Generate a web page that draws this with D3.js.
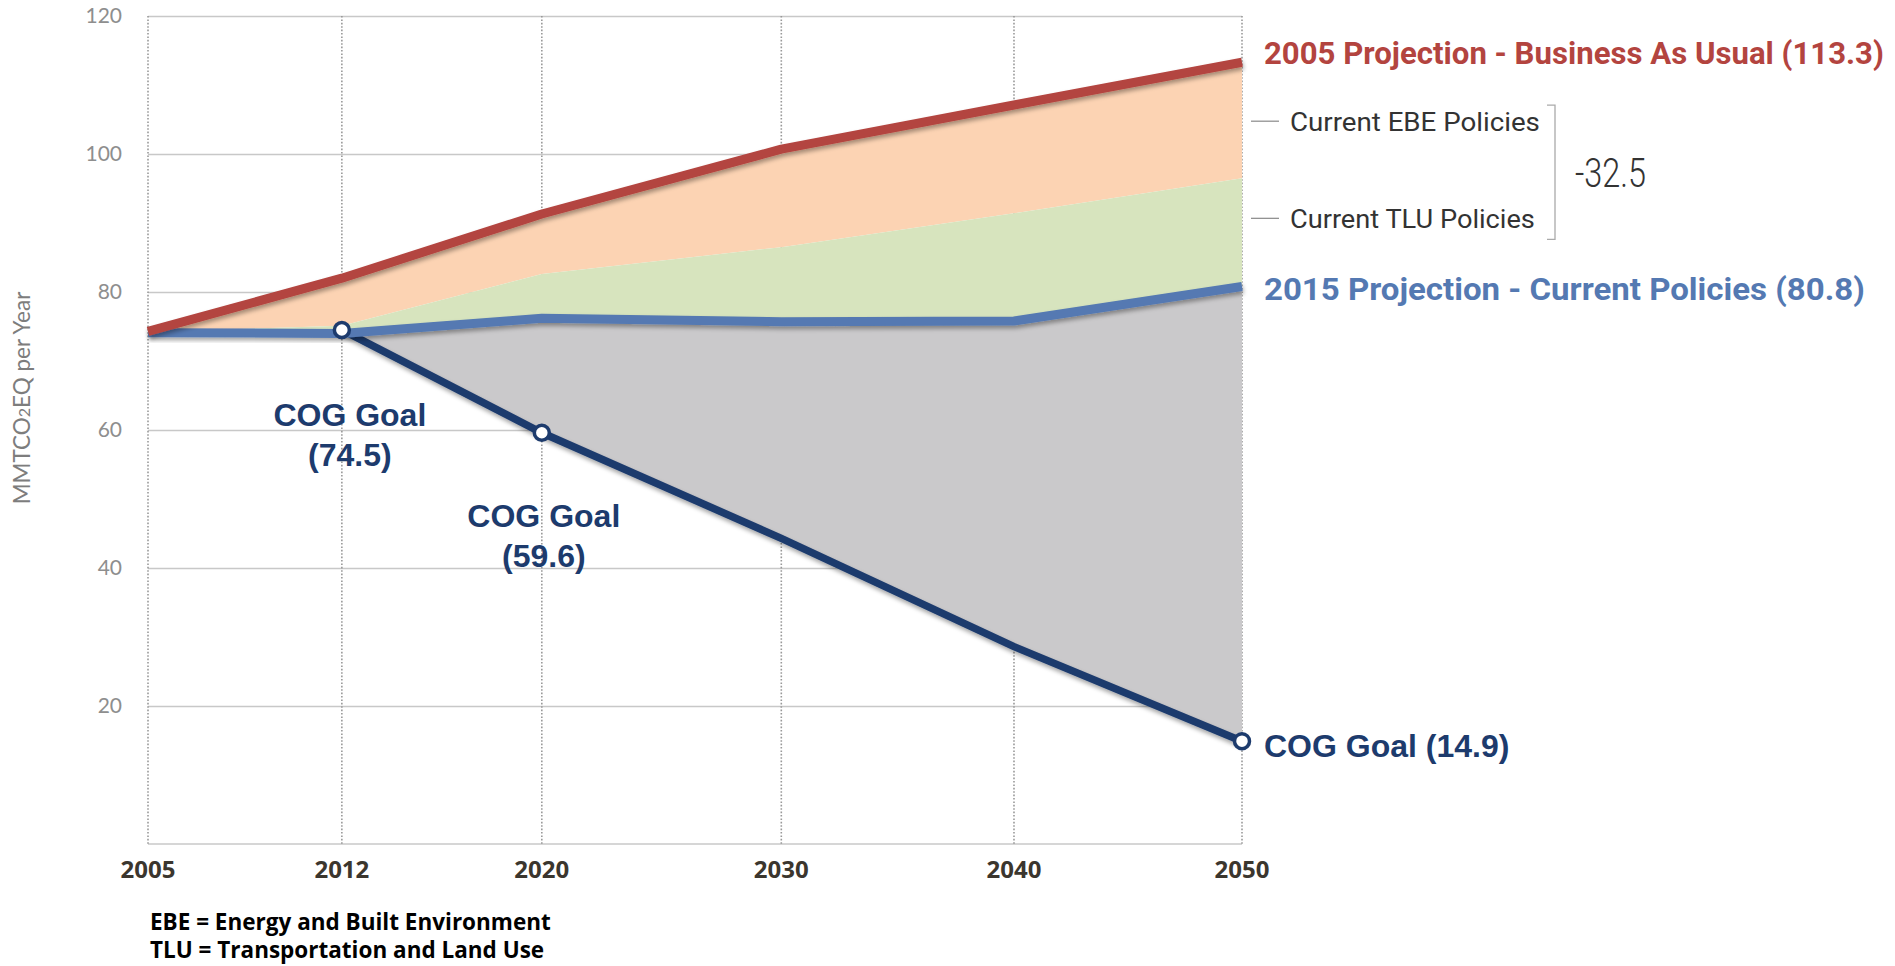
<!DOCTYPE html>
<html>
<head>
<meta charset="utf-8">
<script src="https://cdn.jsdelivr.net/npm/d3@7"></script>
<style>
  body { margin: 0; background: #fff; }
</style>
</head>
<body>
<div id="canvas"></div>
<script>
const years = [2005, 2012, 2020, 2030, 2040, 2050];
const businessAsUsual = [74.3, 82.0, 91.3, 100.7, 107.1, 113.3];
const afterEbePolicies = [74.2, 75.1, 82.6, 86.5, 91.4, 96.5];
const currentPolicies = [74.1, 74.0, 76.2, 75.7, 75.8, 80.8];
const cogGoal = [null, 74.5, 59.6, 44.3, 28.6, 14.9];
const yTicks = [20, 40, 60, 80, 100, 120];

const width = 1895, height = 966;
const margin = { top: 16, left: 148, right: 653, bottom: 122 };
const iwidth = width - margin.left - margin.right;
const iheight = height - margin.top - margin.bottom;

const navy = "#1d3b6d", red = "#b3443f", blue = "#5479b2";

const svg = d3.select("#canvas").append("svg")
    .attr("width", width)
    .attr("height", height);

const defs = svg.append("defs");
defs.append("filter").attr("id", "shadow")
    .attr("x", "-5%").attr("y", "-20%").attr("width", "110%").attr("height", "140%")
  .append("feDropShadow")
    .attr("dx", 1).attr("dy", 3).attr("stdDeviation", 2)
    .attr("flood-color", "#000").attr("flood-opacity", 0.35);

const g = svg.append("g").attr("transform", `translate(${margin.left},${margin.top})`);

// the source axis is slightly compressed toward the later years
const xs = d3.scalePow().exponent(0.93).domain([0, 2050 - 2005]).range([0, iwidth]);
const x = yr => xs(yr - 2005);
const y = d3.scaleLinear().domain([0, 120]).range([iheight, 0]);

const rows = years.map((yr, i) => ({
    year: yr,
    bau: businessAsUsual[i],
    ebe: afterEbePolicies[i],
    cur: currentPolicies[i],
    cog: cogGoal[i]
}));

// horizontal gridlines + y labels
g.append("g")
    .call(d3.axisLeft(y).tickValues(yTicks).tickSize(-iwidth).tickPadding(26))
    .call(a => a.select(".domain").remove())
    .call(a => a.selectAll("line").attr("stroke", "#c8c8c8").attr("stroke-width", 1.5))
    .call(a => a.selectAll("text")
        .attr("fill", "#8e8e8e")
        .style("font", "21px Lato, sans-serif")
        .attr("dy", "0.3em"));

// x axis line
g.append("line")
    .attr("x1", 0).attr("x2", iwidth)
    .attr("y1", y(0)).attr("y2", y(0))
    .attr("stroke", "#c8c8c8").attr("stroke-width", 1.5);

// dotted verticals
g.selectAll(".vgrid").data(years).enter().append("line")
    .attr("class", "vgrid")
    .attr("x1", d => x(d)).attr("x2", d => x(d))
    .attr("y1", y(120)).attr("y2", y(0))
    .attr("stroke", "#999")
    .attr("stroke-width", 1.6)
    .attr("stroke-dasharray", "1.6,1.8");

// x labels
const xl = g.append("g")
    .attr("fill", "#3b362e")
    .attr("text-anchor", "middle")
    .style("font", "bold 24px 'Open Sans', sans-serif");
xl.selectAll("text").data(years).enter().append("text")
    .attr("x", d => x(d))
    .attr("y", iheight + 34)
    .text(d => d);

// stacked bands
const orange = d3.area().x(d => x(d.year)).y0(d => y(d.ebe)).y1(d => y(d.bau));
const green = d3.area().x(d => x(d.year)).y0(d => y(d.cur)).y1(d => y(d.ebe));
const gray = d3.area().defined(d => d.cog !== null)
    .x(d => x(d.year)).y0(d => y(d.cog)).y1(d => y(d.cur));

g.append("path").datum(rows).attr("d", orange).attr("fill", "#fcd3b3");
g.append("path").datum(rows).attr("d", green).attr("fill", "#d7e4be");
g.append("path").datum(rows).attr("d", gray).attr("fill", "#cac9cb");

// lines
const lineOf = key => d3.line().defined(d => d[key] !== null)
    .x(d => x(d.year)).y(d => y(d[key]));

g.append("path").datum(rows).attr("d", lineOf("cog"))
    .attr("fill", "none").attr("stroke", navy).attr("stroke-width", 7.5)
    .attr("filter", "url(#shadow)");
g.append("path").datum(rows).attr("d", lineOf("cur"))
    .attr("fill", "none").attr("stroke", blue).attr("stroke-width", 9)
    .attr("stroke-linejoin", "bevel")
    .attr("filter", "url(#shadow)");
g.append("path").datum(rows).attr("d", lineOf("bau"))
    .attr("fill", "none").attr("stroke", red).attr("stroke-width", 9)
    .attr("stroke-linejoin", "bevel")
    .attr("filter", "url(#shadow)");

// goal markers
const goals = rows.filter(d => d.cog !== null && d.year !== 2030 && d.year !== 2040);
g.selectAll(".goal").data(goals).enter().append("circle")
    .attr("class", "goal")
    .attr("cx", d => x(d.year)).attr("cy", d => y(d.cog))
    .attr("r", 7.5)
    .attr("fill", "#fff").attr("stroke", navy).attr("stroke-width", 3.5);

// goal labels
const goalFont = "bold 32px 'Liberation Sans', Arial, sans-serif";
[[2012, 96, 8], [2020, 94, 2]].forEach(([yr, dy, dx]) => {
    const d = rows.find(r => r.year === yr);
    const t = g.append("text")
        .attr("x", x(yr) + dx).attr("y", y(d.cog) + dy)
        .attr("text-anchor", "middle")
        .attr("fill", navy)
        .style("font", goalFont);
    t.append("tspan").attr("x", x(yr) + dx).text("COG Goal");
    t.append("tspan").attr("x", x(yr) + dx).attr("dy", 40).text(`(${d.cog})`);
});

const last = rows[rows.length - 1];
const rx = x(2050);

g.append("text")
    .attr("x", rx + 22).attr("y", y(last.cog) + 4).attr("dy", "0.36em")
    .attr("fill", navy)
    .style("font", "bold 32px 'Liberation Sans', Arial, sans-serif")
    .text(`COG Goal (${last.cog})`);

// condensed-looking labels: squeeze horizontally to the source width
function squeezed(parent, px, py, w, font, color, label) {
    const t = parent.append("text")
        .attr("dy", "0.36em")
        .attr("fill", color)
        .style("font", font)
        .text(label);
    const sx = w / t.node().getComputedTextLength();
    t.attr("transform", `translate(${px},${py}) scale(${sx},1)`);
    return t;
}

squeezed(g, rx + 22, y(last.bau) - 10, 620, "bold 32px Roboto, sans-serif", red,
    `2005 Projection - Business As Usual (${last.bau})`);
squeezed(g, rx + 22, y(last.cur) + 2, 601, "bold 32px Roboto, sans-serif", blue,
    `2015 Projection - Current Policies (${last.cur})`);

// policy labels
const ebeY = (y(last.bau) + y(last.ebe)) / 2 + 1;
const tluY = (y(last.ebe) + y(last.cur)) / 2 - 14;
[["Current EBE Policies", ebeY, 250], ["Current TLU Policies", tluY, 245]].forEach(([label, ly, len]) => {
    g.append("line")
        .attr("x1", rx + 9).attr("x2", rx + 37)
        .attr("y1", ly).attr("y2", ly)
        .attr("stroke", "#888").attr("stroke-width", 1.2);
    squeezed(g, rx + 48, ly, len, "26px Roboto, sans-serif", "#333", label);
});

// bracket
const bx = rx + 313, bTop = ebeY - 16, bBot = tluY + 21;
g.append("path")
    .attr("d", `M${bx - 8},${bTop}H${bx}V${bBot}H${bx - 8}`)
    .attr("fill", "none").attr("stroke", "#aaa").attr("stroke-width", 1.3);
squeezed(g, bx + 20, (bTop + bBot) / 2, 71, "300 40px Roboto, sans-serif", "#333",
    `-${d3.format(".1f")(last.bau - last.cur)}`);

// y title
svg.append("text")
    .attr("transform", "translate(30,398) rotate(-90)")
    .attr("text-anchor", "middle")
    .attr("fill", "#7d7d7d")
    .style("font", "22.5px Lato, sans-serif")
    .call(t => {
        t.append("tspan").text("MMTCO");
        t.append("tspan").style("font-size", "16px").text("2");
        t.append("tspan").text("EQ per Year");
    });

// footnote
const foot = svg.append("g")
    .attr("fill", "#000")
    .style("font", "bold 22.5px 'Open Sans', sans-serif");
foot.append("text").attr("x", 150).attr("y", 930).text("EBE = Energy and Built Environment");
foot.append("text").attr("x", 150).attr("y", 958).text("TLU = Transportation and Land Use");
</script>
</body>
</html>
